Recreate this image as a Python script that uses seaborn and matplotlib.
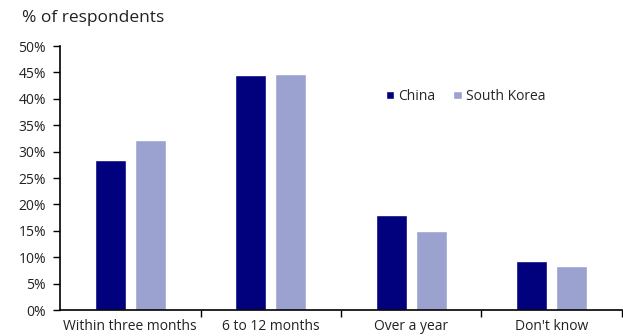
import matplotlib
matplotlib.use("Agg")
import matplotlib.pyplot as plt
import seaborn as sns
import pandas as pd
from matplotlib.ticker import FuncFormatter, FixedLocator

categories = ["Within three months", "6 to 12 months", "Over a year", "Don't know"]
china = [28.4, 44.5, 17.9, 9.3]
south_korea = [32.2, 44.7, 15.0, 8.3]
series_names = ["China", "South Korea"]
colors = ["#01017e", "#9ba2d0"]

df = pd.DataFrame({
    "category": categories * 2,
    "value": china + south_korea,
    "country": [series_names[0]] * 4 + [series_names[1]] * 4,
})

sns.set_style("white")
plt.rcParams["font.family"] = ["Open Sans", "DejaVu Sans"]

fig = plt.figure(figsize=(6.23, 3.36), dpi=100)
ax = fig.add_axes([60/623, 1 - 310/336, (622 - 60)/623, (310 - 46)/336])

sns.barplot(data=df, x="category", y="value", hue="country", order=categories,
            hue_order=series_names, palette=colors, width=0.57, gap=0.23,
            saturation=1, ax=ax, legend=True)

ax.set_xlim(-0.5, 3.5)
ax.set_ylim(0, 50)
ax.set_yticks(range(0, 51, 5))
ax.yaxis.set_major_formatter(FuncFormatter(lambda v, p: f"{int(v)}%"))
ax.set_xlabel("")
ax.set_ylabel("")

for s in ["top", "right"]:
    ax.spines[s].set_visible(False)
for s in ["left", "bottom"]:
    ax.spines[s].set_color("black")
    ax.spines[s].set_linewidth(1.2)

ax.tick_params(axis="y", which="major", left=True, length=5, width=1, color="black",
               labelsize=10, pad=5, labelcolor="#222222")
ax.tick_params(axis="x", which="major", bottom=False, labelsize=10, pad=3, labelcolor="#222222")
ax.xaxis.set_minor_locator(FixedLocator([0.5, 1.5, 2.5, 3.5]))
ax.tick_params(axis="x", which="minor", bottom=True, length=5, width=1, color="black")

leg = ax.legend(loc="upper left", bbox_to_anchor=(0.557, 0.885), ncol=2, frameon=False,
                fontsize=10, handlelength=0.6, handleheight=0.6, handletextpad=0.3,
                columnspacing=1.3)

fig.text(22/623, 1 - 18/336, "% of respondents", fontsize=12.5, va="center", ha="left",
         color="#222222")

fig.savefig("out.png", dpi=100)
